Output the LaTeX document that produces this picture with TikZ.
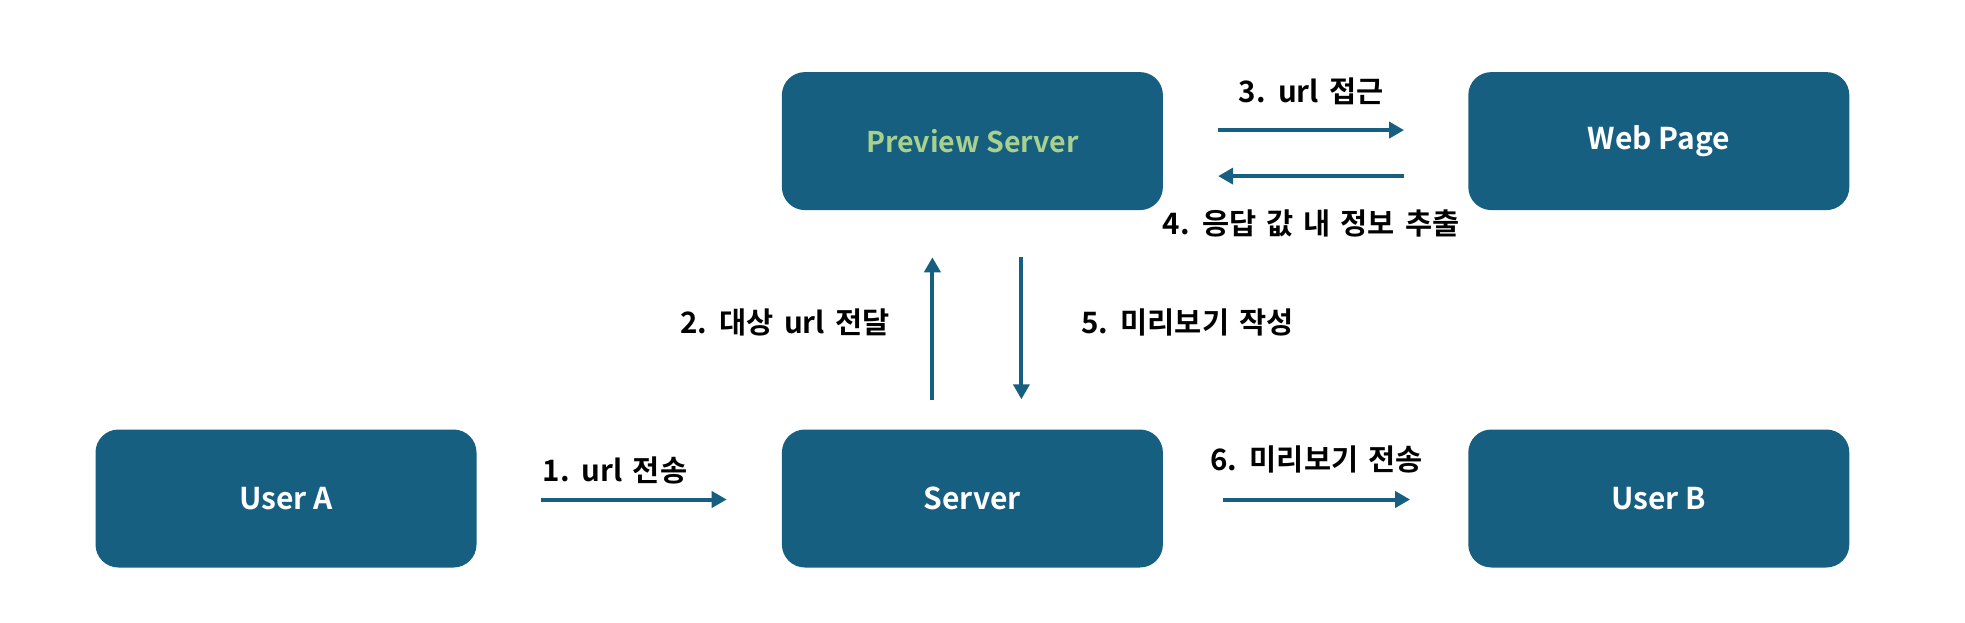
\documentclass[tikz,border=0pt]{standalone}
\usepackage{fontspec}
\setmainfont{Noto Sans CJK KR}[BoldFont={Noto Sans CJK KR Bold}]
\newfontfamily\lblfont{Noto Sans CJK KR Bold}[WordSpace=1.5]
\usetikzlibrary{positioning,arrows.meta}
\definecolor{boxblue}{RGB}{23,95,128}
\definecolor{lightgreen}{RGB}{169,209,142}
\begin{document}
\begin{tikzpicture}[x=1pt, y=-1pt, line join=round, >={Triangle[length=15pt,width=16pt]},
		box/.style={draw=none, fill=boxblue, rounded corners=23pt, minimum width=381pt, minimum height=138pt, text=white, font=\fontsize{30}{34}\selectfont\bfseries},
		flow/.style={->, draw=boxblue, line width=4pt},
		lbl/.style={font=\fontsize{29.5}{32}\lblfont, inner sep=0pt}]
	\useasboundingbox (0,0) rectangle (1965,623);
	\node[box] (usera) at (286,498.5) {User A};
	\node[box, right=305pt of usera] (server) {Server};
	\node[box, right=305pt of server] (userb) {User B};
	\node[box, above=219pt of server, text=lightgreen, font=\fontsize{28.5}{34}\selectfont\bfseries] (preview) {Preview Server};
	\node[box, right=305pt of preview] (web) {Web Page};
	\draw[flow] ([xshift=64pt,yshift=-1pt]usera.east) -- ([xshift=-55pt,yshift=-1pt]server.west) node[lbl, pos=0, anchor=west, yshift=29pt] {1. url 전송};
	\draw[flow] ([xshift=-40pt,yshift=29pt]server.north) -- ([xshift=-40pt,yshift=-47pt]preview.south) node[lbl, midway, anchor=east, xshift=-41pt, yshift=6pt] {2. 대상 url 전달};
	\draw[flow] ([xshift=55pt,yshift=11pt]preview.east) -- ([xshift=-64pt,yshift=11pt]web.west) node[lbl, midway, yshift=39pt] {3. url 접근};
	\draw[flow] ([xshift=-64pt,yshift=-35pt]web.west) -- ([xshift=55pt,yshift=-35pt]preview.east) node[lbl, midway, yshift=-47pt] {4. 응답 값 내 정보 추출};
	\draw[flow] ([xshift=49pt,yshift=-47pt]preview.south) -- ([xshift=49pt,yshift=30pt]server.north) node[lbl, midway, anchor=west, xshift=58pt, yshift=6pt] {5. 미리보기 작성};
	\draw[flow] ([xshift=60pt,yshift=-1pt]server.east) -- ([xshift=-58pt,yshift=-1pt]userb.west) node[lbl, midway, yshift=40pt] {6. 미리보기 전송};
\end{tikzpicture}
\end{document}
